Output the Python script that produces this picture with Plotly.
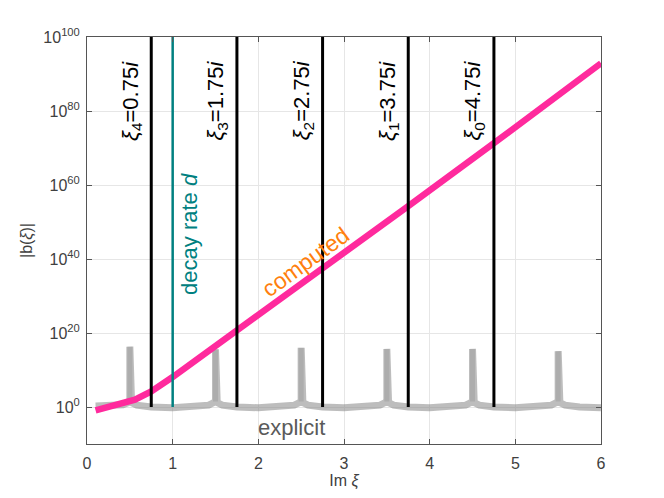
import numpy as np
import plotly.graph_objects as go

# computed |b(xi)| (log10 values)
comp_x = [0.1, 0.3, 0.56, 0.75, 1.0, 1.75, 2.75, 3.75, 4.75, 6.0]
comp_log = [-0.9, 0.5, 2.0, 4.2, 8.1, 20.7, 37.3, 54.3, 71.3, 92.9]

# explicit |b(xi)|: flat baseline with narrow spikes at half-integers
expl_x = [0.1, 0.3, 0.42, 0.48, 0.5, 0.5, 0.5, 0.52, 0.58, 0.75, 1.0, 1.25,
          1.42, 1.48, 1.5, 1.5, 1.5, 1.52, 1.58, 1.75, 2.0, 2.25,
          2.42, 2.48, 2.5, 2.5, 2.5, 2.52, 2.58, 2.75, 3.0, 3.25,
          3.42, 3.48, 3.5, 3.5, 3.5, 3.52, 3.58, 3.75, 4.0, 4.25,
          4.42, 4.48, 4.5, 4.5, 4.5, 4.52, 4.58, 4.75, 5.0, 5.25,
          5.42, 5.48, 5.5, 5.5, 5.5, 5.52, 5.58, 5.75, 6.0]
expl_log = [0.3, 0.3, 0.6, 1.2, 1.8, 16.3, 1.8, 1.2, 0.5, 0.0, -0.2, 0.0,
            0.5, 1.2, 1.8, 15.6, 1.8, 1.2, 0.5, 0.0, -0.2, 0.0,
            0.5, 1.2, 1.8, 16.0, 1.8, 1.2, 0.5, 0.0, -0.2, 0.0,
            0.5, 1.2, 1.8, 15.7, 1.8, 1.2, 0.5, 0.0, -0.2, 0.0,
            0.5, 1.2, 1.8, 15.7, 1.8, 1.2, 0.5, 0.0, -0.2, 0.0,
            0.5, 1.2, 1.8, 15.1, 1.8, 1.2, 0.5, 0.0, -0.2]
spike_x = [0.5, 1.5, 2.5, 3.5, 4.5, 5.5]
spike_log = [16.3, 15.6, 16.0, 15.7, 15.7, 15.1]

# xi_n positions and decay rate
xi_x = [0.75, 1.75, 2.75, 3.75, 4.75]
xi_n = [4, 3, 2, 1, 0]
decay_x = 1.0

ytick_exp = [0, 20, 40, 60, 80, 100]
xtick_vals = [0, 1, 2, 3, 4, 5, 6]

gray = "rgba(135,135,135,0.55)"
font = "Liberation Sans, Arial, sans-serif"

fig = go.Figure()

fig.add_trace(go.Scatter(x=expl_x, y=np.power(10.0, expl_log), mode="lines",
                         line=dict(color=gray, width=7), hoverinfo="skip"))
# spikes drawn again so the overlap looks darker
sx, sy = [], []
for x, p in zip(spike_x, spike_log):
    sx += [x, x, None]
    sy += [10 ** 1.5, 10 ** p, None]
fig.add_trace(go.Scatter(x=sx, y=sy, mode="lines",
                         line=dict(color="rgba(135,135,135,0.3)", width=5),
                         hoverinfo="skip"))

fig.add_trace(go.Scatter(x=comp_x, y=np.power(10.0, comp_log), mode="lines",
                         line=dict(color="#ff2a9d", width=6.5), hoverinfo="skip"))

vx, vy = [], []
for x in xi_x:
    vx += [x, x, None]
    vy += [1.0, 1e100, None]
fig.add_trace(go.Scatter(x=vx, y=vy, mode="lines",
                         line=dict(color="black", width=3), hoverinfo="skip"))
fig.add_trace(go.Scatter(x=[decay_x, decay_x], y=[1.0, 1e100], mode="lines",
                         line=dict(color="#008080", width=2.5), hoverinfo="skip"))

for x, n in zip(xi_x, xi_n):
    fig.add_annotation(x=x, y=82.8, xref="x", yref="y",
                       text=f"<i>ξ</i><sub>{n}</sub>={x:.2f}<i>i</i>",
                       textangle=-90, showarrow=False, xshift=-20,
                       font=dict(family=font, size=22, color="black"))

fig.add_annotation(x=decay_x, y=46.7, xref="x", yref="y",
                   text="decay rate <i>d</i>", textangle=-90, showarrow=False,
                   xshift=17, font=dict(family=font, size=22, color="#008080"))
fig.add_annotation(x=2.55, y=39.2, xref="x", yref="y", text="computed",
                   textangle=-36, showarrow=False,
                   font=dict(family=font, size=23, color="#ff7f0e"))
fig.add_annotation(x=2.39, y=-5.6, xref="x", yref="y", text="explicit",
                   showarrow=False,
                   font=dict(family=font, size=22, color="#5a5a5a"))

axis_common = dict(showline=True, linecolor="#555555", linewidth=1, mirror="ticks",
                   ticks="inside", ticklen=5, tickcolor="#555555",
                   gridcolor="#e6e6e6", zeroline=False, automargin=False,
                   tickfont=dict(family=font, size=16, color="#404040"))

# page body adds an 8px offset, so the figure is drawn 16px smaller
fig.update_layout(
    width=648, height=482,
    margin=dict(l=79, r=55, t=29, b=46),
    paper_bgcolor="white", plot_bgcolor="white",
    showlegend=False,
    xaxis=dict(range=[0, 6], tickvals=xtick_vals, ticklabelstandoff=5,
               title=dict(text="Im <i>ξ</i>", standoff=6,
                          font=dict(family=font, size=16, color="#404040")),
               **axis_common),
    yaxis=dict(type="log", range=[-10, 100], ticklabelstandoff=3,
               tickvals=[10.0 ** e for e in ytick_exp],
               ticktext=[f"10<sup>{e}</sup>" for e in ytick_exp],
               title=dict(text="|b(<i>ξ</i>)|", standoff=6,
                          font=dict(family=font, size=16, color="#404040")),
               **axis_common),
)

fig.write_html("out.html")
